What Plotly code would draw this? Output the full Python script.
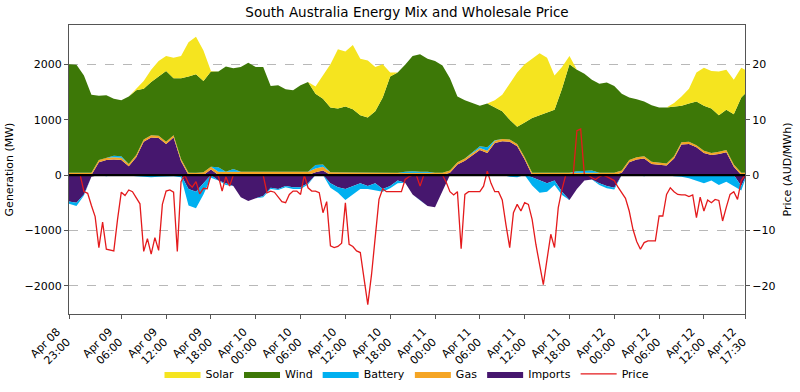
import numpy as np
import pandas as pd
import plotly.graph_objects as go

# ---------------- data ----------------
# hourly generation samples from 2025-04-08 23:00 to 2025-04-12 17:00, plus final 17:30
gen_times = list(pd.date_range("2025-04-08 23:00", periods=91, freq="h")) + [pd.Timestamp("2025-04-12 17:30")]

solar = [0, 0, 0, 0, 0, 0, 0, 0, 0, 30, 140, 220,
         280, 270, 370, 400, 620, 680, 550, 10, 0, 0, 0, 0,
         0, 0, 0, 0, 0, 0, 0, 0, 0, 130, 420, 780,
         1070, 990, 1160, 1020, 1030, 800, 600, 70, 0, 0, 0, 0,
         0, 0, 0, 0, 0, 0, 0, 0, 0, 130, 300, 650,
         980, 1050, 1070, 1120, 990, 620, 390, 150, 0, 0, 0, 0,
         0, 0, 0, 0, 0, 0, 0, 0, 0, 60, 170, 270,
         520, 690, 680, 790, 720, 620, 540, 430]

wind = [1960, 1950, 1760, 1410, 1160, 1130, 1030, 1010, 1220, 1170, 920, 960,
        1070, 1280, 1030, 1460, 1740, 1780, 1650, 1720, 1730, 1900, 1820, 1890,
        1970, 1890, 1890, 1550, 1560, 1490, 1470, 1560, 1620, 1290, 1190, 1170,
        1150, 1190, 1140, 1030, 990, 1100, 1350, 1730, 1810, 1930, 2080, 2120,
        2040, 2020, 1940, 1670, 1190, 1050, 890, 730, 790, 590, 500, 360,
        310, 630, 990, 1040, 1090, 1140, 1520, 1960, 1830, 1750, 1640, 1610,
        1630, 1570, 1390, 1130, 1050, 990, 1020, 990, 1010, 900, 660, 690,
        790, 810, 800, 660, 730, 910, 1360, 1430]

battery = [-40, -60, -20, 0, 0, -20, 30, 30, -10, -20, -30, -40,
           -30, -20, -20, -40, -300, -300, -200, -50, 80, -30, 50, 0,
           0, 0, -20, -20, -20, -20, -30, -30, -20, 60, 40, -80,
           -100, -200, -150, -100, -50, -120, -50, -40, -50, 20, 30, 20,
           20, 0, 0, 0, 0, 0, 20, 30, 60, 10, 0, -30,
           -40, 0, -150, -220, -150, -80, -60, 0, 30, 40, 40, -30,
           -40, -30, 0, 0, 0, -20, 0, 0, 0, -20, -30, -60,
           -100, -150, -100, -180, -120, -200, -80, -30]

gas = [40, 40, 40, 40, 40, 40, 40, 40, 40, 40, 40, 40,
       40, 40, 40, 40, 40, 40, 50, 50, 60, 60, 60, 60,
       60, 60, 60, 60, 60, 60, 60, 60, 60, 70, 70, 50,
       50, 50, 50, 50, 50, 50, 50, 50, 40, 40, 40, 40,
       40, 40, 40, 40, 40, 40, 40, 40, 40, 40, 40, 40,
       40, 40, 40, 40, 40, 40, 40, 40, 40, 40, 40, 40,
       40, 40, 40, 40, 40, 40, 40, 40, 40, 40, 40, 40,
       40, 40, 40, 40, 40, 40, 40, 40]

imports = [-480, -500, -350, -30, 230, 270, 280, 270, 160, 320, 600, 680,
           670, 560, 680, 250, -250, -300, -150, 100, -100, -150, -200, -400,
           -470, -420, -380, -230, -250, -200, -220, -220, -150, 50, 80, -150,
           -220, -250, -200, -150, -200, -150, -250, -200, -100, -140, -350, -450,
           -560, -580, -300, 40, 190, 260, 350, 450, 400, 580, 610, 600,
           520, 280, -40, -100, -150, -100, -300, -450, -250, -100, -80, -150,
           -200, -230, 40, 230, 280, 300, 200, 190, 170, 300, 550, 560,
           500, 400, 360, 380, 410, 150, -200, -60]

# half-hourly price samples, 2025-04-08 23:00 .. 2025-04-12 17:30
price_times = pd.date_range("2025-04-08 23:00", "2025-04-12 17:30", freq="30min")
price = [0, 0, 0, 0, -3.0, -3.3, -5.5, -7.5, -13.1, -8.5, -13.4, -13.5,
         -13.7, -8.0, -3.1, -3.7, -2.7, -3.0, -4.0, -5.2, -13.8, -11.5, -14.3, -11.3,
         -13.6, -5.3, -2.9, -2.7, -3.1, -13.8, -1.2, 0, -1.5, -2.2, -1.2, -3.4,
         -2.4, -2.5, 0, 0, -0.2, -2.9, -0.3, -2.0, 0, 0, 0, 0,
         0, 0, 0, 0, 0, -3.2, -2.9, -3.1, -4.0, -4.8, -5.0, -3.5,
         -2.9, -2.9, -3.5, 0, -2.3, -2.9, -2.9, -3.2, -6.8, -4.8, -12.8, -13.1,
         -12.9, -12.3, -5.0, -12.5, -12.9, -13.7, -14.0, -18.3, -23.4, -18.0, -11.0, -4.4,
         -2.5, -3.0, -3.0, -3.0, -3.0, -3.0, -0.8, -0.3, 0, 0, -2.0, 0,
         0, 0, 0, 0, 0, -1.3, -3.0, -3.6, -3.0, -13.3, -3.5, -3.0,
         -3.0, -3.0, -3.0, -2.0, 0.7, -1.5, -3.0, -3.0, -4.5, -9.0, -13.1, -6.8,
         -5.3, -6.5, -5.0, -5.3, -8.0, -12.5, -16.4, -19.8, -15.2, -10.7, -13.1, -5.9,
         -2.6, 0, 0, 0, 8.0, 8.3, 0, 0, -0.5, -0.8, -0.3, 0,
         -0.3, -0.6, -1.0, -2.2, -3.2, -4.2, -6.5, -9.8, -12.0, -13.4, -12.2, -11.9,
         -11.9, -11.9, -7.4, -7.4, -3.5, -2.3, -3.0, -3.5, -3.6, -3.6, -3.9, -3.6,
         -7.7, -4.0, -6.5, -4.5, -5.0, -4.4, -4.6, -8.3, -5.8, -3.5, -3.0, -4.4,
         -1.0, 0]

tick_times = ["2025-04-08 23:00", "2025-04-09 06:00", "2025-04-09 12:00", "2025-04-09 18:00",
              "2025-04-10 00:00", "2025-04-10 06:00", "2025-04-10 12:00", "2025-04-10 18:00",
              "2025-04-11 00:00", "2025-04-11 06:00", "2025-04-11 12:00", "2025-04-11 18:00",
              "2025-04-12 00:00", "2025-04-12 06:00", "2025-04-12 12:00", "2025-04-12 17:30"]
tick_labels = ["Apr 08<br>23:00", "Apr 09<br>06:00", "Apr 09<br>12:00", "Apr 09<br>18:00",
               "Apr 10<br>00:00", "Apr 10<br>06:00", "Apr 10<br>12:00", "Apr 10<br>18:00",
               "Apr 11<br>00:00", "Apr 11<br>06:00", "Apr 11<br>12:00", "Apr 11<br>18:00",
               "Apr 12<br>00:00", "Apr 12<br>06:00", "Apr 12<br>12:00", "Apr 12<br>17:30"]

gen_ticks = [-2000, -1000, 0, 1000, 2000]
price_ticks = [-20, -10, 0, 10, 20]

# ---------------- styling ----------------
C_SOLAR = "#f5e41f"
C_WIND = "#3d7807"
C_BATT = "#00b0f0"
C_GAS = "#f5a524"
C_IMP = "#46176e"
C_PRICE = "#e41a1c"
FONT = "DejaVu Sans"

imp = np.array(imports, dtype=float)
bat = np.array(battery, dtype=float)

fig = go.Figure()

def area(y, name, color, group, show, rank):
    fig.add_trace(go.Scatter(
        x=gen_times, y=y, name=name, stackgroup=group, mode="lines",
        line=dict(width=0, color=color), fillcolor=color,
        legendgroup=name, showlegend=show, legendrank=rank))

# positive stack
area(np.clip(imp, 0, None), "Imports", C_IMP, "pos", True, 5)
area(gas, "Gas", C_GAS, "pos", True, 4)
area(np.clip(bat, 0, None), "Battery", C_BATT, "pos", True, 3)
area(wind, "Wind", C_WIND, "pos", True, 2)
area(solar, "Solar", C_SOLAR, "pos", True, 1)
# negative stack
area(np.clip(imp, None, 0), "Imports", C_IMP, "neg", False, 5)
area(np.clip(bat, None, 0), "Battery", C_BATT, "neg", False, 3)

fig.add_trace(go.Scatter(x=price_times, y=price, name="Price", mode="lines",
                         line=dict(color=C_PRICE, width=1.3), yaxis="y2", legendrank=6))

fig.add_shape(type="line", xref="paper", x0=0, x1=1, yref="y", y0=0, y1=0,
              line=dict(color="black", width=2.2), layer="above")

axis_common = dict(showline=True, linecolor="#555555", linewidth=1, ticks="outside",
                   ticklen=4, tickcolor="#555555", tickfont=dict(size=11, color="black"),
                   automargin=False)

fig.update_layout(
    width=800, height=392,
    margin=dict(l=69, r=55, t=25, b=78),
    paper_bgcolor="white", plot_bgcolor="white",
    font=dict(family=FONT, size=11, color="black"),
    title=dict(text="South Australia Energy Mix and Wholesale Price", x=0.5, xref="paper",
               xanchor="center", y=0.968, yanchor="middle", font=dict(size=13.5, color="black")),
    xaxis=dict(type="date", range=[pd.Timestamp("2025-04-08 23:00"), pd.Timestamp("2025-04-12 17:30")],
               tickmode="array", tickvals=tick_times, ticktext=tick_labels, tickangle=-45,
               ticklabelshift=-12, ticklabelstandoff=2,
               showgrid=False, zeroline=False, mirror=True, **axis_common),
    yaxis=dict(range=[-2510, 2710], tickmode="array", tickvals=gen_ticks,
               showgrid=True, gridcolor="#b8b8b8", griddash="dash", gridwidth=0.8,
               zeroline=False, title=dict(text="Generation (MW)", font=dict(size=11), standoff=8),
               **axis_common),
    yaxis2=dict(range=[-25.1, 27.1], tickmode="array", tickvals=price_ticks, overlaying="y",
                side="right", showgrid=False, zeroline=False,
                title=dict(text="Price (AUD/MWh)", font=dict(size=11), standoff=8),
                **axis_common),
    legend=dict(orientation="h", x=0.5, xanchor="center", xref="paper",
                y=0.046, yanchor="middle", yref="container", itemwidth=36,
                font=dict(size=11), bgcolor="rgba(0,0,0,0)", traceorder="normal"),
    showlegend=True,
)

fig.write_html("out.html", config={"displayModeBar": False},
               post_script="document.body.style.margin='0px';")
